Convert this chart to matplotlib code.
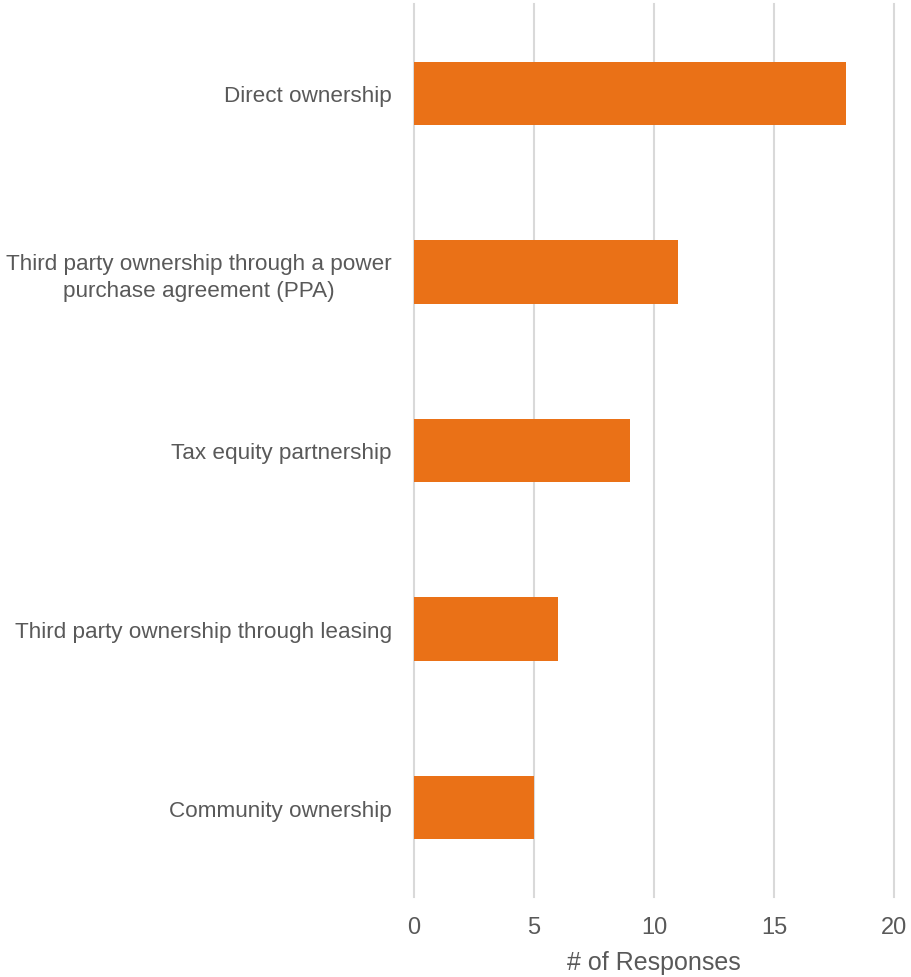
import matplotlib.pyplot as plt

plt.rcParams['font.family'] = ['Liberation Sans', 'DejaVu Sans']

categories = [
    "Direct ownership",
    "Third party ownership through a power\npurchase agreement (PPA)",
    "Tax equity partnership",
    "Third party ownership through leasing",
    "Community ownership",
]
responses = [18, 11, 9, 6, 5]
x_ticks = [0, 5, 10, 15, 20]

text_color = "#595959"
bar_color = "#EA7117"

fig = plt.figure(figsize=(9.12, 9.78), dpi=100)
ax = fig.add_axes([414 / 912, 1 - 898 / 978, 480 / 912, 893 / 978])

positions = list(range(len(categories)))
ax.barh(positions, responses, height=0.355, color=bar_color, zorder=3)

ax.set_xlim(0, 20)
ax.set_ylim(len(categories) - 0.5, -0.5)
ax.set_xticks(x_ticks)
ax.set_yticks(positions)
ax.set_yticklabels(categories, multialignment="center", linespacing=1.35)

ax.tick_params(axis="y", length=0, labelsize=16.2, colors=text_color, pad=16)
ax.tick_params(axis="x", length=0, labelsize=17, colors=text_color, pad=14)

ax.grid(axis="x", color="#D9D9D9", linewidth=1.5, zorder=0)
ax.grid(axis="y", visible=False)
for line in ax.get_xgridlines():
    line.set_clip_on(False)
for spine in ax.spines.values():
    spine.set_visible(False)

ax.set_xlabel("# of Responses", fontsize=18, color=text_color, labelpad=8)

fig.savefig("out.png", dpi=100)
